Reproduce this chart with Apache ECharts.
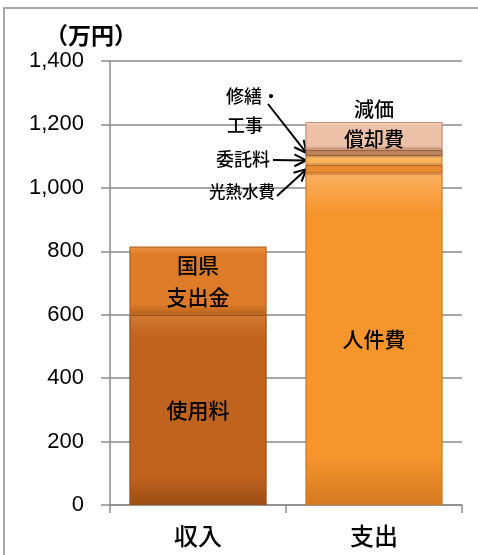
<!DOCTYPE html>
<html><head><meta charset="utf-8">
<script src="https://cdn.jsdelivr.net/npm/echarts@6/dist/echarts.min.js"></script>
<style>html,body{margin:0;padding:0;background:#fff}#c{width:478px;height:555px}</style>
</head><body><div id="c"></div>
<script>
// ---- data ----
const categories = ['収入', '支出'];
const yMin = 0, yMax = 1400, yStep = 200;
const usageFees    = [600, '-'];   // 使用料
const subsidies    = [215, '-'];   // 国県支出金
const personnel    = ['-', 1045];  // 人件費
const utilities    = ['-', 28];    // 光熱水費
const outsourcing  = ['-', 27];    // 委託料
const repairs      = ['-', 20];    // 修繕・工事
const depreciation = ['-', 88];    // 減価償却費
const unitLabel = '（万円）';

const CJK = '"Noto Sans CJK JP", "Noto Sans", sans-serif';

function bevel(light, base, dark) {
  return {
    type: 'linear', x: 0, y: 0, x2: 0, y2: 1,
    colorStops: [
      {offset: 0, color: light},
      {offset: 0.12, color: base},
      {offset: 0.85, color: base},
      {offset: 1, color: dark}
    ]
  };
}

function seg(name, data, light, base, dark, label) {
  return {
    name: name, type: 'bar', stack: 'total', data: data, barWidth: '78%',
    itemStyle: {color: bevel(light, base, dark), borderColor: dark, borderWidth: 1.2},
    label: label || {show: false},
    emphasis: {disabled: true}
  };
}

const chart = echarts.init(document.getElementById('c'), null, {renderer: 'canvas'});
const option = {
  animation: false,
  grid: {left: 110, right: 16, top: 61, bottom: 50},
  xAxis: {
    type: 'category', data: categories,
    axisLine: {lineStyle: {color: '#8a8a8a', width: 1.5}},
    axisTick: {show: true, length: 8, lineStyle: {color: '#8a8a8a', width: 1.5}},
    axisLabel: {color: '#000', fontSize: 24, fontWeight: 500, fontFamily: CJK, margin: 19}
  },
  yAxis: {
    type: 'value', min: yMin, max: yMax, interval: yStep,
    axisLine: {show: true, lineStyle: {color: '#8a8a8a', width: 1.5}},
    axisTick: {show: true, length: 9, lineStyle: {color: '#8a8a8a', width: 1.5}},
    splitLine: {lineStyle: {color: '#8a8a8a', width: 1.5}},
    axisLabel: {color: '#000', fontSize: 22, fontFamily: '"Liberation Sans", Arial, sans-serif', margin: 26,
      formatter: v => v.toLocaleString('en-US')}
  },
  series: [
    seg('使用料', usageFees, '#d27a34', '#c0631f', '#9c4e15',
      {show: true, position: 'inside', formatter: '使用料', color: '#000', fontSize: 21, fontWeight: 500, fontFamily: CJK}),
    seg('国県支出金', subsidies, '#ec9545', '#dd7b28', '#b8621c',
      {show: true, position: 'inside', formatter: '国県\n支出金', color: '#000', fontSize: 21, fontWeight: 500, lineHeight: 32, fontFamily: CJK}),
    seg('人件費', personnel, '#fbb060', '#f7952d', '#d57a20',
      {show: true, position: 'inside', formatter: '人件費', color: '#000', fontSize: 21, fontWeight: 500, fontFamily: CJK}),
    seg('光熱水費', utilities, '#f4a04a', '#e98a2e', '#b5651e'),
    seg('委託料', outsourcing, '#fcc87e', '#f8b45a', '#d08b3c'),
    seg('修繕・工事', repairs, '#d49a6c', '#bd8156', '#956140'),
    seg('減価償却費', depreciation, '#f8dccb', '#ecc1a8', '#c68f74',
      {show: true, position: 'inside', formatter: '減価\n償却費', color: '#000', fontSize: 20, fontWeight: 500, lineHeight: 30, offset: [0, -11], fontFamily: CJK})
  ]
};
chart.setOption(option);

// annotations with arrows, anchored to segment centres via the chart's own scales
function arrow(x1, y1, x2, y2) {
  const ang = Math.atan2(y2 - y1, x2 - x1), L = 12, W = 6;
  const bx = x2 - L * Math.cos(ang), by = y2 - L * Math.sin(ang);
  const px = -Math.sin(ang) * W, py = Math.cos(ang) * W;
  return [
    {type: 'line', shape: {x1: x1, y1: y1, x2: x2, y2: y2}, style: {stroke: '#000', lineWidth: 2}},
    {type: 'polyline', shape: {points: [[bx + px, by + py], [x2, y2], [bx - px, by - py]]}, style: {stroke: '#000', lineWidth: 2, fill: null}}
  ];
}
const c0 = chart.convertToPixel({xAxisIndex: 0}, categories[0]);
const c1 = chart.convertToPixel({xAxisIndex: 0}, categories[1]);
const band = c1 - c0;
const barLeft = c1 - band * 0.78 / 2 + 1;
const py = v => chart.convertToPixel({yAxisIndex: 0}, v);
const base1 = personnel[1];
const yUtil = py(base1 + utilities[1] / 2);
const yOut = py(base1 + utilities[1] + outsourcing[1] / 2);
const yRep = py(base1 + utilities[1] + outsourcing[1] + repairs[1] / 2);

const txt = (x, y, t, fs) => ({type: 'text', x: x, y: y, style: {text: t, fontSize: fs, fontWeight: 500, fontFamily: CJK, fill: '#000', textAlign: 'center', textVerticalAlign: 'middle'}});
const g = [
  {type: 'rect', shape: {x: 4, y: 8, width: 500, height: 600}, style: {fill: 'none', stroke: '#8a8a8a', lineWidth: 1.5}, z: -1},
  {type: 'text', x: 91, y: 35, style: {text: unitLabel, fontSize: 23, fontWeight: 'bold', fontFamily: CJK, fill: '#000', textAlign: 'center', textVerticalAlign: 'middle'}},
  txt(253, 96, '修繕・', 18),
  txt(245, 125, '工事', 18),
  txt(243, 159, '委託料', 18),
  txt(242, 192, '光熱水費', 16.5)
]
  .concat(arrow(268, 104, barLeft, yRep))
  .concat(arrow(273, 160, barLeft, yOut))
  .concat(arrow(277, 196, barLeft, yUtil));
chart.setOption({graphic: g});
</script>
</body></html>
